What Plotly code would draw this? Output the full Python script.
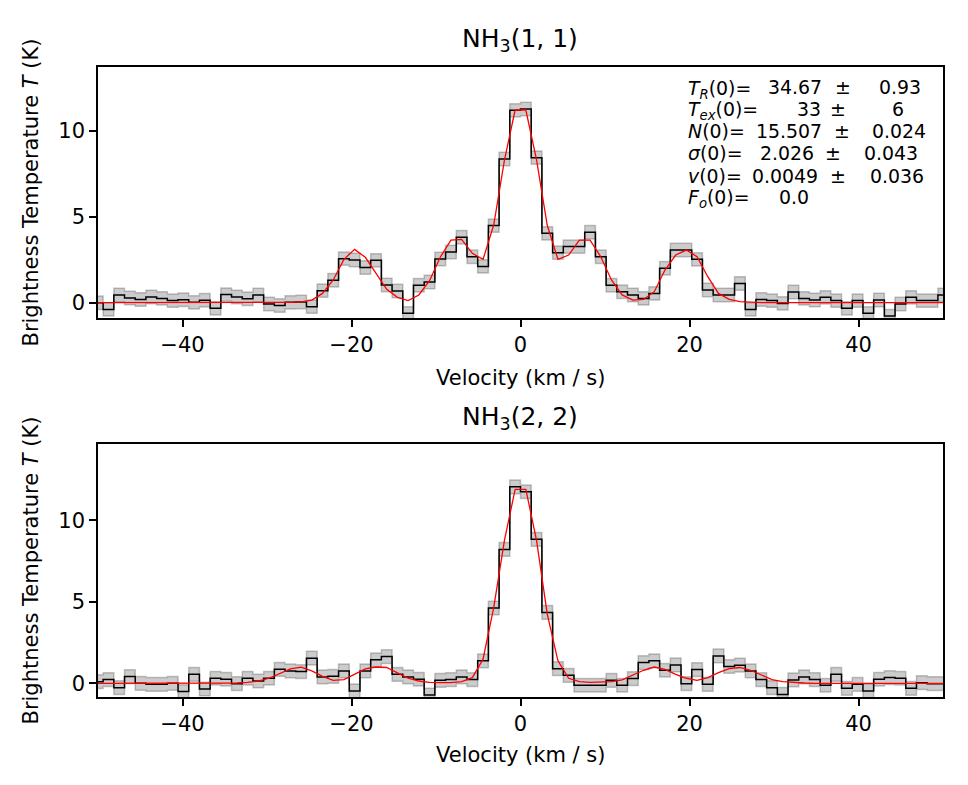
import numpy as np
import plotly.graph_objects as go

# channel grid (km/s)
dv = 1.2665
vel = (np.arange(-40, 40) + 0.5) * dv

# NH3(1,1) observed spectrum (K)
tb11 = [0.0, -0.39, 0.45, 0.27, 0.19, 0.33, 0.25, 0.12, 0.17, 0.02,
        0.14, -0.33, 0.47, 0.33, 0.23, 0.45, -0.08, -0.16, 0.02, 0.04,
        -0.23, 0.70, 1.30, 2.56, 2.48, 2.05, 2.46, 1.03, 0.68, -0.62,
        1.01, 1.20, 2.54, 2.95, 3.80, 2.67, 2.11, 4.48, 8.35, 11.18,
        11.26, 8.43, 4.03, 2.91, 3.26, 3.26, 4.09, 2.67, 1.01, 0.64,
        0.45, 0.25, 0.54, 2.00, 3.06, 3.06, 2.52, 0.74, 0.45, 0.45,
        1.12, -0.39, 0.19, 0.12, -0.04, 0.62, 0.25, 0.16, 0.31, 0.12,
        -0.33, 0.12, -0.62, 0.16, -0.78, -0.08, 0.31, 0.12, 0.12, 0.45]
# NH3(1,1) model
mod11 = [0, 0, 0, 0, 0, 0, 0, 0, 0, 0,
         0, 0, 0, 0, 0, 0, 0, 0, 0.02, 0.05,
         0.15, 0.54, 1.32, 2.52, 3.10, 2.64, 1.71, 0.78, 0.31, 0.12,
         0.45, 1.28, 2.64, 3.64, 3.68, 2.87, 2.52, 4.52, 8.29, 11.2,
         11.2, 8.30, 4.50, 2.52, 2.77, 3.64, 3.64, 2.67, 1.32, 0.45,
         0.15, 0.19, 0.64, 1.90, 2.77, 3.06, 2.67, 1.51, 0.54, 0.19,
         0.06, 0.02, 0, 0, 0, 0, 0, 0, 0, 0,
         0, 0, 0, 0, 0, 0, 0, 0, 0, 0]

# NH3(2,2) observed spectrum (K)
tb22 = [0.10, 0.23, -0.27, 0.41, 0.0, -0.06, -0.06, 0.0, -0.51, 0.55,
        -0.35, 0.31, 0.25, -0.02, 0.31, 0.14, 0.31, 0.86, 0.76, 0.72,
        1.54, 0.39, 0.43, 0.76, -0.47, 0.76, 1.44, 1.64, 0.55, 0.39,
        0.25, -0.72, 0.18, 0.23, 0.39, 0.23, 1.38, 4.62, 8.21, 12.05,
        11.75, 8.83, 4.35, 0.90, 0.49, -0.12, -0.12, -0.12, 0.18, -0.12,
        0.29, 1.27, 1.38, 0.80, 1.13, -0.02, 0.84, -0.06, 1.68, 1.03,
        1.11, 0.76, 0.23, -0.27, -0.68, 0.21, 0.39, 0.23, -0.12, 0.55,
        -0.31, -0.06, -0.47, 0.25, 0.35, 0.31, -0.31, 0.04, -0.02, -0.02]
# NH3(2,2) model
mod22 = [0, 0, 0, 0, 0, 0, 0, 0, 0, 0,
         0, 0, 0, 0.02, 0.06, 0.14, 0.31, 0.62, 0.88, 0.99,
         0.76, 0.43, 0.18, 0.23, 0.55, 0.88, 1.00, 0.97, 0.64, 0.31,
         0.14, 0.06, 0.04, 0.04, 0.10, 0.35, 1.48, 4.66, 8.77, 11.9,
         11.9, 8.77, 4.25, 1.38, 0.31, 0.10, 0.06, 0.06, 0.10, 0.21,
         0.51, 0.80, 1.00, 0.86, 0.55, 0.31, 0.18, 0.35, 0.66, 0.90,
         0.97, 0.80, 0.51, 0.23, 0.10, 0.04, 0.02, 0, 0, 0,
         0, 0, 0, 0, 0, 0, 0, 0, 0, 0]

err11 = 0.39
err22 = 0.42

x_ticks = [-40, -20, 0, 20, 40]
y_ticks = [0, 5, 10]

fit_labels = ["<i>T</i><sub><i>R</i></sub>(0)=", "<i>T</i><sub><i>ex</i></sub>(0)=",
              "<i>N</i>(0)=", "<i>σ</i>(0)=", "<i>v</i>(0)=", "<i>F</i><sub><i>o</i></sub>(0)="]
fit_values = ["34.67", "33", "15.507", "2.026", "0.0049", "0.0"]
fit_errors = ["0.93", "6", "0.024", "0.043", "0.036", ""]

W, H = 968, 785
L, R = 98, 25
PW = W - L - R


def px(xp):
    return (xp - L) / PW


def py(yp):
    return 1 - yp / H


fig = go.Figure()

FONT = "DejaVu Sans"


def add_panel(tb, mod, err, xa, ya):
    lo = [t - err for t in tb]
    hi = [t + err for t in tb]
    edge = dict(color="rgba(0,0,0,0.22)", width=1.5, shape="hvh")
    fig.add_trace(go.Scatter(x=vel, y=lo, mode="lines", line=edge,
                             xaxis=xa, yaxis=ya, showlegend=False, hoverinfo="skip"))
    fig.add_trace(go.Scatter(x=vel, y=hi, mode="lines", line=edge, fill="tonexty",
                             fillcolor="rgba(0,0,0,0.2)",
                             xaxis=xa, yaxis=ya, showlegend=False, hoverinfo="skip"))
    fig.add_trace(go.Scatter(x=vel, y=tb, mode="lines",
                             line=dict(color="black", width=1.5, shape="hvh"),
                             xaxis=xa, yaxis=ya, showlegend=False))
    fig.add_trace(go.Scatter(x=vel, y=mod, mode="lines",
                             line=dict(color="red", width=1.3),
                             xaxis=xa, yaxis=ya, showlegend=False))


add_panel(tb11, mod11, err11, "x", "y")
add_panel(tb22, mod22, err22, "x2", "y2")

axis_common = dict(showline=True, linecolor="black", linewidth=1.6, mirror=True,
                   ticks="outside", ticklen=7, tickwidth=1.6, tickcolor="black",
                   showgrid=False, zeroline=False,
                   tickfont=dict(family=FONT, size=21, color="black"))

fig.update_layout(
    width=W, height=H,
    margin=dict(l=L, r=R, t=0, b=0),
    paper_bgcolor="white", plot_bgcolor="white",
    xaxis=dict(domain=[0, 1], anchor="y", range=[-50, 50], tickvals=x_ticks, **axis_common),
    yaxis=dict(domain=[py(318), py(67)], anchor="x", range=[-0.89, 13.7], tickvals=y_ticks, **axis_common),
    xaxis2=dict(domain=[0, 1], anchor="y2", range=[-50, 50], tickvals=x_ticks, **axis_common),
    yaxis2=dict(domain=[py(697), py(444)], anchor="x2", range=[-0.84, 14.68], tickvals=y_ticks, **axis_common),
)

ann = []
# titles
for ty, name in [(40, "NH<sub>3</sub>(1, 1)"), (418, "NH<sub>3</sub>(2, 2)")]:
    ann.append(dict(x=px(520), y=py(ty), xref="paper", yref="paper", text=name,
                    showarrow=False, xanchor="center", yanchor="middle",
                    font=dict(family=FONT, size=25, color="black")))
# x titles
for ty in [378, 755]:
    ann.append(dict(x=px(520), y=py(ty), xref="paper", yref="paper", text="Velocity (km / s)",
                    showarrow=False, xanchor="center", yanchor="middle",
                    font=dict(family=FONT, size=21, color="black")))
# y titles
for ty in [192.5, 570.5]:
    ann.append(dict(x=px(30), y=py(ty), xref="paper", yref="paper",
                    text="Brightness Temperature <i>T</i> (K)", textangle=-90,
                    showarrow=False, xanchor="center", yanchor="middle",
                    font=dict(family=FONT, size=21, color="black")))

# fit parameter text block
line_y = [87.3, 109, 131, 153.3, 176, 196.7]
val_right = [824, 823.3, 824.3, 816, 820, 811]
pm_left = [833, 828, 832, 823, 828, None]
err_right = [923.3, 906, 928, 920, 926, None]
fs = 18.9
for i in range(6):
    ann.append(dict(x=px(685.7), y=py(line_y[i]), xref="paper", yref="paper",
                    text=fit_labels[i], showarrow=False, xanchor="left", yanchor="middle",
                    yshift=(-2 if "<sub>" in fit_labels[i] else 0),
                    font=dict(family=FONT, size=fs, color="black")))
    ann.append(dict(x=px(val_right[i]), y=py(line_y[i]), xref="paper", yref="paper",
                    text=fit_values[i], showarrow=False, xanchor="right", yanchor="middle",
                    font=dict(family=FONT, size=fs, color="black")))
    if fit_errors[i]:
        ann.append(dict(x=px(pm_left[i]), y=py(line_y[i]), xref="paper", yref="paper",
                        text="±", showarrow=False, xanchor="left", yanchor="middle",
                        font=dict(family=FONT, size=fs, color="black")))
        ann.append(dict(x=px(err_right[i]), y=py(line_y[i]), xref="paper", yref="paper",
                        text=fit_errors[i], showarrow=False, xanchor="right", yanchor="middle",
                        font=dict(family=FONT, size=fs, color="black")))

fig.update_layout(annotations=ann)
fig.write_html("out.html", config={"displayModeBar": False},
               post_script="document.body.style.margin='0';document.body.style.overflow='hidden';")
